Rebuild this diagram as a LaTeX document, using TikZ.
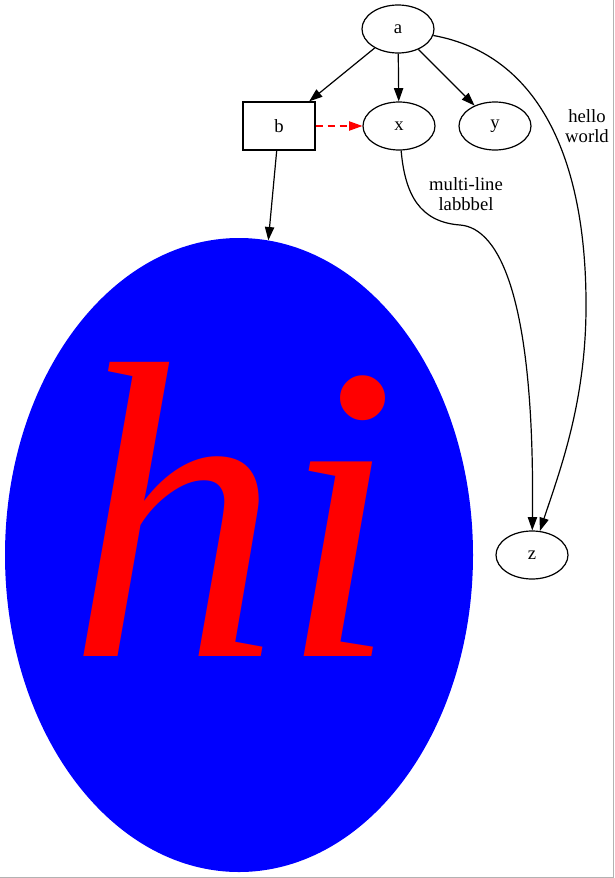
\documentclass[tikz,border=0pt]{standalone}
\usepackage{fontspec}
\setmainfont{Liberation Serif}
\usepackage{tikz}
\usetikzlibrary{arrows.meta,positioning,shapes.geometric}
\definecolor{hiblue}{HTML}{0000FF}
\definecolor{hired}{HTML}{FF0000}

\begin{document}
\begin{tikzpicture}[x=1pt,y=-1pt,font=\fontsize{18.67}{20}\selectfont,
  ell/.style={ellipse,draw,line width=1.2pt,minimum width=72pt,minimum height=48pt,inner sep=0pt},
  boxnode/.style={rectangle,draw,line width=1.2pt,minimum width=72pt,minimum height=48pt,inner sep=0pt},
  lbl/.style={align=center,inner sep=0pt},
  flow/.style={-{Triangle[length=13.3pt,width=9.3pt]},line width=1.2pt}]
\useasboundingbox (0,0) rectangle (614,878);
\draw[gray!60,line width=1pt] (0,877.5) -- (613.5,877.5) -- (613.5,0);
\node[ell] (a) at (398,29) {a};
\node[boxnode] (b) at (279,126) {b};
\node[ell] (x) at (399,126) {x};
\node[ell] (y) at (495,126) {y};
\node[ell] (z) at (532,555) {z};
\node[ellipse,fill=hiblue,minimum width=468pt,minimum height=634pt,inner sep=0pt] (hi) at (239,555) {};
\node[inner sep=0pt,text=hired,font=\fontsize{424}{424}\selectfont\itshape] (hitext) at ([xshift=-6pt,yshift=46pt]hi.center) {hi};
\node[lbl] (hellolbl) at (587,126) {hello\\world};
\node[lbl] (multilbl) at (466,194) {multi-line\\labbbel};
\draw[flow] (a) -- (b); \draw[flow] (a) -- (x); \draw[flow] (a) -- (y);
\draw[flow,hired,dash pattern=on 7pt off 5pt] (b) -- (x);
\draw[flow] (b) -- (hi);
\draw[flow] (a) .. controls (540,55) and (585,160) .. (586,300) .. controls (587,400) and (560,470) .. (z);
\draw[flow] (x) .. controls (405,195) and (420,222) .. (460,225) .. controls (500,228) and (535,300) .. (z);
\end{tikzpicture}
\end{document}
